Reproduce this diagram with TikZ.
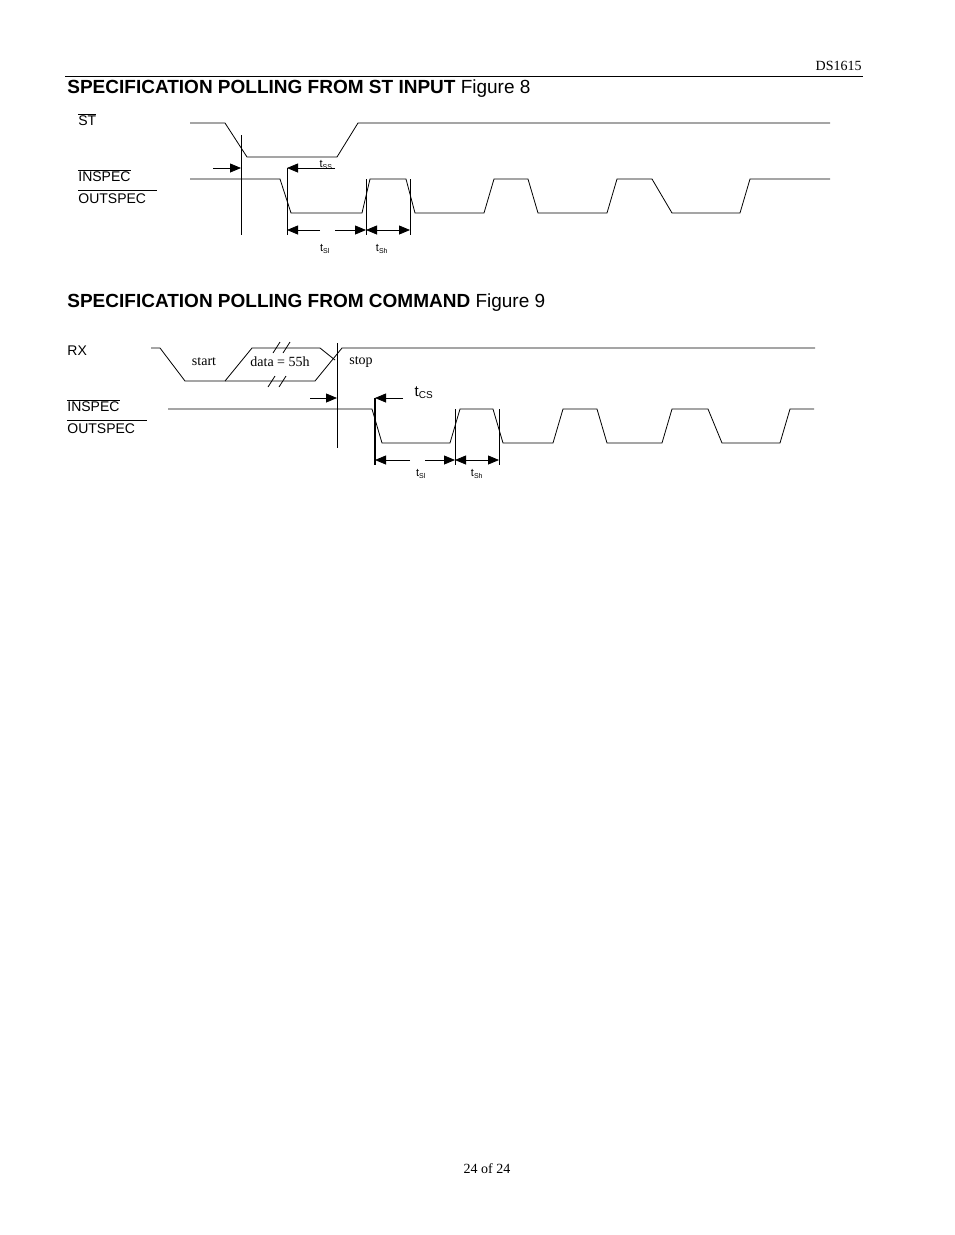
\documentclass[tikz,border=0pt]{standalone}
\usepackage{fontspec}
\setmainfont{Liberation Serif}
\setsansfont{Liberation Sans}
\usetikzlibrary{arrows.meta}
\newcommand{\tsub}[2]{t\textsubscript{\fontsize{7}{8}\selectfont #2}}
\begin{document}
\begin{tikzpicture}[x=1pt, y=-1pt, line width=0.8pt,
            lbl/.style={anchor=west, inner sep=0pt, font=\sffamily\fontsize{14}{16}\selectfont},
            tlbl/.style={inner sep=0pt, font=\sffamily\fontsize{11}{12}\selectfont},
            title/.style={anchor=west, inner sep=0pt, font=\sffamily\fontsize{19}{22}\selectfont},
            serif/.style={inner sep=0pt, font=\fontsize{14}{16}\selectfont},
            tip/.style={-{Triangle[length=11pt,width=9pt]}},
            tips/.style={{Triangle[length=11pt,width=9pt]}-{Triangle[length=11pt,width=9pt]}}]
        \useasboundingbox (0,0) rectangle (954,1235);

        % page header and footer
        \node[serif, anchor=east] (ds) at (862,66) {DS1615};
        \draw[line width=0.6pt] (65,76) -- (863,76);
        \node[serif] (page) at (487,1169) {24 of 24};

        % Figure 8
        \node[title] (title8) at (67,89) {\textbf{SPECIFICATION POLLING FROM ST INPUT} Figure 8};
        \node[lbl] (st) at (78,120) {$\overline{\mbox{ST}}$};
        \node[lbl] (insp) at (78,176) {$\overline{\mbox{INSPEC}}$};
        \node[lbl] (outsp) at (78,199) {OUTSPEC};
        \draw[line width=0.6pt] (78,190) -- (157,190);

        \draw (190,123) -- (225,123) -- (247,157) -- (337,157) -- (358,123) -- (830,123);
        \draw (190,179) -- (280,179) -- (291,213) -- (362,213) -- (370,179) -- (406,179) -- (415,213)
              -- (484,213) -- (494,179) -- (528,179) -- (538,213) -- (607,213) -- (617,179)
              -- (652,179) -- (672,213) -- (740,213) -- (750,179) -- (830,179);

        \coordinate (a0) at (241,135); \coordinate (a1) at (241,235);
        \coordinate (b0) at (287,168); \coordinate (b1) at (287,235);
        \coordinate (c0) at (366,179); \coordinate (c1) at (366,235);
        \coordinate (d0) at (410,179); \coordinate (d1) at (410,235);
        \draw (a0) -- (a1);
        \draw (b0) -- (b1);
        \draw (c0) -- (c1);
        \draw (d0) -- (d1);
        \coordinate (ssL) at (213,168);
        \coordinate (ssR) at (335,168);
        \draw[tip] (ssL) -- (a0 |- ssL);
        \draw[tip] (ssR) -- (b0);
        \node[tlbl] (tss) at (326,165) {\tsub{t}{SS}};
        \coordinate (slA) at (320,230); \coordinate (slB) at (335,230);
        \draw[tip] (slA) -- (b0 |- slA);
        \draw[tip] (slB) -- (c0 |- slB);
        \draw[tips] (c0 |- slB) -- (d0 |- slB);
        \node[tlbl] (tsl8) at (325,249) {\tsub{t}{Sl}};
        \node[tlbl] (tsh8) at (382,249) {\tsub{t}{Sh}};

        % Figure 9
        \node[title] (title9) at (67,303) {\textbf{SPECIFICATION POLLING FROM COMMAND} Figure 9};
        \node[lbl] (rx) at (67,351) {RX};
        \node[lbl] (insp9) at (67,406) {$\overline{\mbox{INSPEC}}$};
        \node[lbl] (outsp9) at (67,429) {OUTSPEC};
        \draw[line width=0.6pt] (67,420) -- (147,420);

        \draw (151,348) -- (160,348) -- (185,381) -- (225,381) -- (252,348) -- (320,348) -- (335,360);
        \draw (225,381) -- (315,381) -- (342,348) -- (815,348);
        \draw (273,353) -- (280,342) (283,353) -- (290,342);
        \draw (268,387) -- (275,376) (279,387) -- (286,376);
        \node[serif] (start) at (204,362) {start};
        \node[serif] (data) at (280,362) {data = 55h};
        \node[serif] (stop) at (361,362) {stop};

        \draw (168,409) -- (372,409) -- (382,443) -- (450,443) -- (460,409) -- (493,409) -- (503,443)
              -- (553,443) -- (563,409) -- (597,409) -- (607,443) -- (662,443) -- (672,409)
              -- (708,409) -- (722,443) -- (780,443) -- (790,409) -- (814,409);

        \coordinate (e0) at (337,343); \coordinate (e1) at (337,448);
        \coordinate (f0) at (375,398); \coordinate (f1) at (375,465);
        \coordinate (g0) at (455,409); \coordinate (g1) at (455,465);
        \coordinate (h0) at (499,409); \coordinate (h1) at (499,465);
        \draw (e0) -- (e1);
        \draw[line width=1.6pt] (f0) -- (f1);
        \draw (g0) -- (g1);
        \draw (h0) -- (h1);
        \coordinate (csL) at (310,398);
        \coordinate (csR) at (403,398);
        \draw[tip] (csL) -- (e0 |- csL);
        \draw[tip] (csR) -- (f0);
        \node[tlbl, font=\sffamily\fontsize{15}{16}\selectfont] (tcs) at (424,393) {t\textsubscript{\fontsize{10}{11}\selectfont CS}};
        \coordinate (slC) at (410,460); \coordinate (slD) at (425,460);
        \draw[tip] (slC) -- (f0 |- slC);
        \draw[tip] (slD) -- (g0 |- slD);
        \draw[tips] (g0 |- slD) -- (h0 |- slD);
        \node[tlbl] (tsl9) at (421,474) {\tsub{t}{Sl}};
        \node[tlbl] (tsh9) at (477,474) {\tsub{t}{Sh}};
    \end{tikzpicture}
\end{document}
